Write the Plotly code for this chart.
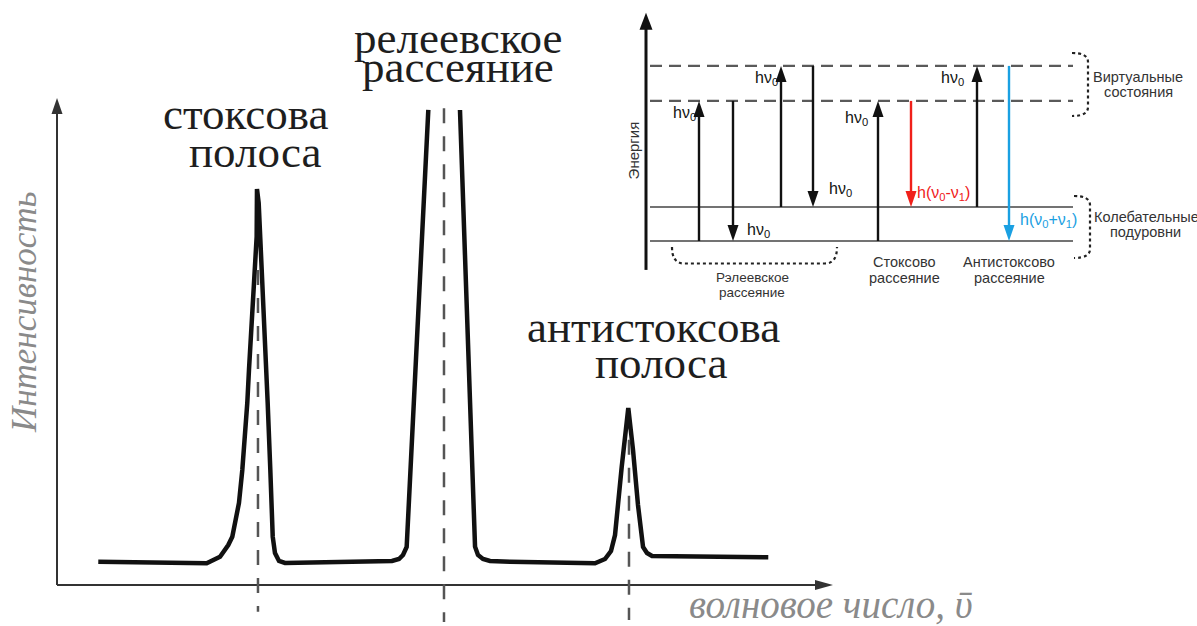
import plotly.graph_objects as go

W, H = 1197, 626

# ---------------- data ----------------
# Raman spectrum, arbitrary units (Rayleigh line goes off-scale -> gap)
wavenumber = [5.32, 19.29, 21.01, 22.07, 22.59, 23.45, 23.88, 24.23, 24.52, 24.74, 25.00, 25.30, 25.52, 25.73, 25.77,
              25.99, 26.38, 26.80, 27.15, 27.49, 27.80, 28.09, 28.61, 29.38, 35.18, 43.17, 44.07, 44.59, 45.06, 47.85,
              None,
              51.93, 53.87, 54.25, 54.90, 55.80, 58.38, 69.33, 70.62, 71.39, 71.91, 72.77, 73.62, 74.23, 74.87, 75.52,
              76.03, 76.68, 91.66]
intensity = [4.78, 4.46, 5.81, 8.21, 9.92, 16.84, 23.61, 30.45, 37.37, 44.15, 50.99, 57.91, 64.68, 71.52, 81.3,
             78.44, 64.68, 50.99, 37.37, 23.61, 9.92, 6.57, 4.93, 4.52, 4.62, 4.93, 5.34, 6.16, 7.80, 97.54,
             None,
             97.54, 7.87, 6.16, 5.34, 4.93, 4.78, 4.46, 5.34, 6.98, 10.27, 24.23, 36.34, 27.72, 16.43, 7.80,
             6.57, 5.95, 5.69]

band_center = [25.9, 49.87, 73.71]
band_marker_top = [64.7, 97.9, 29.8]
band_marker_bottom = [-5.5, -7.6, -7.2]
band_label_1 = ["стоксова", "релеевское", "антистоксова"]
band_label_2 = ["полоса", "рассеяние", "полоса"]

x_title = "волновое число, \u1fe1"
y_title = "Интенсивность"

# Energy-level diagram, energy in units of h*nu1
ground_level = 0.0
vib_level = 1.0
virtual_levels = [4.12, 5.15]
trans_x = [5.3, 8.7, 13.5, 16.7, 23.2, 26.5, 33.1, 36.3]
trans_from = [0.0, 4.12, 1.0, 5.15, 0.0, 4.12, 1.0, 5.15]
trans_to = [4.12, 0.0, 5.15, 1.0, 4.12, 1.0, 5.15, 0.0]
trans_kind = ["k", "k", "k", "k", "k", "r", "k", "b"]
trans_label = ["hν<sub>0</sub>"] * 5 + ["h(ν<sub>0</sub>-ν<sub>1</sub>)", "hν<sub>0</sub>", "h(ν<sub>0</sub>+ν<sub>1</sub>)"]
energy_title = "Энергия"
group_labels = [("Рэлеевское", "рассеяние"), ("Стоксово", "рассеяние"), ("Антистоксово", "рассеяние")]
side_labels = [("Виртуальные", "состояния"), ("Колебательные", "подуровни")]

# ---------------- calibration (pixel mapping) ----------------
MX0, MSX = 57.0, 7.76      # main chart: x origin px, px per unit
MY0, MSY = 585.0, 4.87     # main chart: y origin px, px per unit
IX0, ISX = 646.0, 10.0     # inset: x origin px, px per unit
IY0, ISY = 241.0, 34.0     # inset: E=0 px, px per unit

COL = {"k": "#111111", "r": "#f0201a", "b": "#1aa0e2"}
SERIF = "Liberation Serif, Times New Roman, serif"
SANS = "Liberation Sans, Arial, sans-serif"

fig = go.Figure()
shapes = []
annotations = []


def px(x):
    return x / W


def py(y):
    return 1 - y / H


def label(text, x, base_y, size, color, family, angle=0, k=0.34):
    # place by baseline (pixel); convert to box centre
    if angle == 0:
        cx, cy = x, base_y - k * size
    else:
        cx, cy = base_y - k * size, x
    annotations.append(dict(text=text, x=px(cx), y=py(cy), xref="paper", yref="paper",
                            xanchor="center", yanchor="middle", showarrow=False, textangle=angle,
                            font=dict(size=size, color=color, family=family)))


def head(xt, yt, direction, length_px, width_px, sx, sy, xref, yref, color):
    if direction in ("up", "down"):
        s = 1 if direction == "up" else -1
        yb = yt - s * length_px / sy
        hw = width_px / 2 / sx
        path = f"M{xt},{yt} L{xt - hw},{yb} L{xt + hw},{yb} Z"
    else:
        xb = xt - length_px / sx
        hw = width_px / 2 / sy
        path = f"M{xt},{yt} L{xb},{yt - hw} L{xb},{yt + hw} Z"
    shapes.append(dict(type="path", path=path, xref=xref, yref=yref, fillcolor=color,
                       line=dict(width=0), layer="above"))


# ---------------- main chart ----------------
AX_COL = "#333333"
x_tip, y_tip = 100.0, 100.0
fig.add_trace(go.Scatter(x=[0, x_tip - 2.0, None, 0, 0], y=[0, 0, None, 0, y_tip - 2.5], mode="lines",
                         line=dict(color=AX_COL, width=2), hoverinfo="skip", showlegend=False))
head(x_tip, 0, "right", 18, 10, MSX, MSY, "x", "y", AX_COL)
head(0, y_tip, "up", 16, 11, MSX, MSY, "x", "y", AX_COL)

fig.add_trace(go.Scatter(x=wavenumber, y=intensity, mode="lines", connectgaps=False,
                         line=dict(color="#111111", width=4.5), hoverinfo="skip", showlegend=False))

dx, dy = [], []
for c, t, b in zip(band_center, band_marker_top, band_marker_bottom):
    dx += [c, c, None]
    dy += [t, b, None]
fig.add_trace(go.Scatter(x=dx, y=dy, mode="lines", line=dict(color="#555555", width=2.5, dash="15px,13px"),
                         hoverinfo="skip", showlegend=False))

# band labels (pixel placement: centre x, baseline y)
lab_pos = [((245, 129.5), (255, 167)), ((458, 53), (458, 82)), ((653, 342), (661, 378))]
for (l1, l2), ((x1, b1), (x2, b2)) in zip(zip(band_label_1, band_label_2), lab_pos):
    label(l1, x1, b1, 45, "#1e1e1e", SERIF)
    label(l2, x2, b2, 45, "#1e1e1e", SERIF)

label(f"<i>{x_title}</i>", 831, 618, 39, "#8a8a8a", SERIF)
annotations.append(dict(text=f"<i>{y_title}</i>", x=px(36 - 0.34 * 35), y=py(312), xref="paper", yref="paper",
                        xanchor="center", yanchor="middle", showarrow=False, textangle=-90,
                        font=dict(size=35, color="#8a8a8a", family=SERIF)))

# ---------------- inset energy diagram ----------------
x_left, x_right = 0.4, 42.7
fig.add_trace(go.Scatter(x=[0, 0], y=[-0.85, 6.3], mode="lines", xaxis="x2", yaxis="y2",
                         line=dict(color="#111111", width=3), hoverinfo="skip", showlegend=False))
head(0, 6.71, "up", 17, 13, ISX, ISY, "x2", "y2", "#111111")

fig.add_trace(go.Scatter(x=[x_left, x_right, None, x_left, x_right], y=[ground_level, ground_level, None, vib_level, vib_level],
                         mode="lines", xaxis="x2", yaxis="y2", line=dict(color="#444444", width=1.6),
                         hoverinfo="skip", showlegend=False))
vx, vy = [], []
for v in virtual_levels:
    vx += [x_left, x_right, None]
    vy += [v, v, None]
fig.add_trace(go.Scatter(x=vx, y=vy, mode="lines", xaxis="x2", yaxis="y2",
                         line=dict(color="#5a5a5a", width=2.2, dash="12px,7px"),
                         hoverinfo="skip", showlegend=False))

for x, e0, e1, kind in zip(trans_x, trans_from, trans_to, trans_kind):
    c = COL[kind]
    s = 1 if e1 > e0 else -1
    hl = 16
    fig.add_trace(go.Scatter(x=[x, x], y=[e0, e1 - s * (hl - 2) / ISY], mode="lines", xaxis="x2", yaxis="y2",
                             line=dict(color=c, width=2.4), hoverinfo="skip", showlegend=False))
    head(x, e1, "up" if s > 0 else "down", hl, 11, ISX, ISY, "x2", "y2", c)

tl_pos = [(684, 119), (758, 235.5), (766, 84), (840, 195), (856, 124), (943, 199), (952, 83.5), (1048, 225.5)]
for t, kind, (x, b) in zip(trans_label, trans_kind, tl_pos):
    label(t, x, b, 16, COL[kind] if kind != "k" else "#111111", SANS)

label(energy_title, 150, 638.5, 15, "#333333", SANS, angle=-90)

gl_pos = [((752, 281.7), (752, 296.7)), ((904, 266.7), (904, 282.5)), ((1008.5, 267), (1009, 283))]
gl_size = [13.5, 14.5, 14.5]
for (a, b), ((x1, b1), (x2, b2)), sz in zip(group_labels, gl_pos, gl_size):
    label(a, x1, b1, sz, "#333333", SANS)
    label(b, x2, b2, sz, "#333333", SANS)
sl_pos = [((1137.5, 81.7), (1138, 97.3)), ((1146, 221.7), (1145, 236.5))]
for (a, b), ((x1, b1), (x2, b2)) in zip(side_labels, sl_pos):
    label(a, x1, b1, 14.5, "#333333", SANS)
    label(b, x2, b2, 14.5, "#333333", SANS)


def ix(p):
    return (p - IX0) / ISX


def iy(p):
    return (IY0 - p) / ISY


BR = dict(color="#222222", width=2.2, dash="dot")
for (x0, x1, yt, yb) in [(1072, 1088, 53, 116), (1074, 1090, 196, 258)]:
    r = 9
    path = (f"M{ix(x0)},{iy(yt)} Q{ix(x1)},{iy(yt)} {ix(x1)},{iy(yt + r)} "
            f"L{ix(x1)},{iy(yb - r)} Q{ix(x1)},{iy(yb)} {ix(x0)},{iy(yb)}")
    shapes.append(dict(type="path", path=path, xref="x2", yref="y2", line=BR))
x0, x1, yt, yb, r = 672, 837, 247, 263.5, 12
path = (f"M{ix(x0)},{iy(yt)} Q{ix(x0)},{iy(yb)} {ix(x0 + r)},{iy(yb)} "
        f"L{ix(x1 - r)},{iy(yb)} Q{ix(x1)},{iy(yb)} {ix(x1)},{iy(yt)}")
shapes.append(dict(type="path", path=path, xref="x2", yref="y2", line=BR))

fig.update_layout(
    width=W, height=H, margin=dict(l=0, r=0, t=0, b=0),
    paper_bgcolor="white", plot_bgcolor="white",
    xaxis=dict(range=[(0 - MX0) / MSX, (W - MX0) / MSX], visible=False, domain=[0, 1]),
    yaxis=dict(range=[(MY0 - H) / MSY, MY0 / MSY], visible=False, domain=[0, 1]),
    xaxis2=dict(range=[(0 - IX0) / ISX, (W - IX0) / ISX], visible=False, overlaying="x", anchor="y2"),
    yaxis2=dict(range=[(IY0 - H) / ISY, IY0 / ISY], visible=False, overlaying="y", anchor="x2"),
    shapes=shapes, annotations=annotations, showlegend=False,
)

fig.write_html("out.html", config={"displayModeBar": False},
               post_script="document.body.style.margin='0';document.body.style.padding='0';"
                           "document.body.style.overflow='hidden';")
